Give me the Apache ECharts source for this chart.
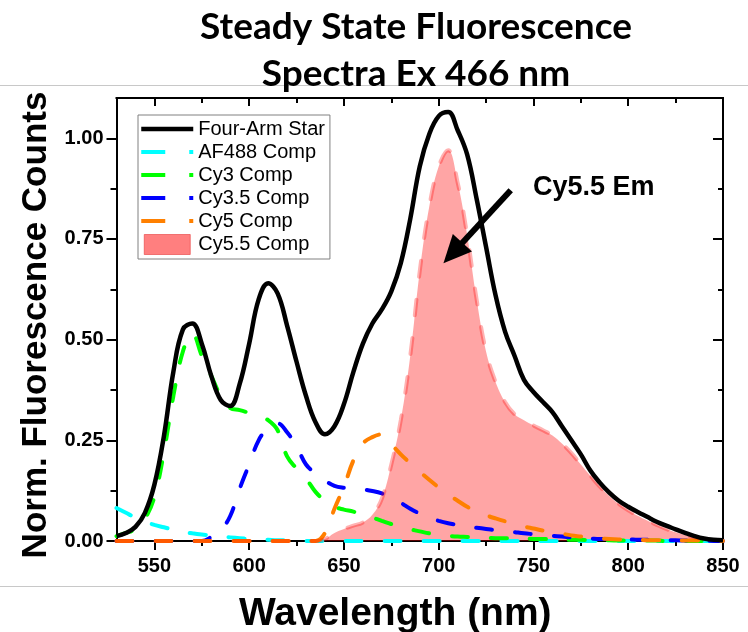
<!DOCTYPE html>
<html>
<head>
<meta charset="utf-8">
<script src="https://cdn.jsdelivr.net/npm/echarts@6/dist/echarts.min.js"></script>
<style>
  html, body { margin: 0; padding: 0; background: #fff; }
  #chart { width: 748px; height: 632px; }
</style>
</head>
<body>
<div id="chart"></div>
<script>
// Emission wavelengths (nm), 5 nm steps
const wavelengths = [
  530, 535, 540, 545, 550, 555, 560, 565, 570, 575,
  580, 585, 590, 595, 600, 605, 610, 615, 620, 625,
  630, 635, 640, 645, 650, 655, 660, 665, 670, 675,
  680, 685, 690, 695, 700, 705, 710, 715, 720, 725,
  730, 735, 740, 745, 750, 755, 760, 765, 770, 775,
  780, 785, 790, 795, 800, 805, 810, 815, 820, 825,
  830, 835, 840, 845, 850
];

// Measured spectrum of the four-arm star construct
const starCounts = [
  0.012, 0.02, 0.035, 0.07, 0.14,
  0.26, 0.42, 0.525, 0.54, 0.49,
  0.41, 0.35, 0.335, 0.39, 0.49,
  0.60, 0.64, 0.615, 0.535, 0.445,
  0.36, 0.295, 0.265, 0.285, 0.34,
  0.42, 0.49, 0.54, 0.575, 0.62,
  0.69, 0.80, 0.93, 1.01, 1.055,
  1.065, 1.02, 0.96, 0.85, 0.73,
  0.61, 0.52, 0.46, 0.40, 0.37,
  0.345, 0.32, 0.285, 0.25, 0.215,
  0.175, 0.145, 0.12, 0.10, 0.085,
  0.072, 0.06, 0.048, 0.038, 0.029,
  0.02, 0.012, 0.006, 0.003, 0.002
];

// Fitted dye components
const af488Comp = [
  0.082, 0.07, 0.058, 0.048, 0.04,
  0.034, 0.028, 0.023, 0.019, 0.016,
  0.014, 0.011, 0.009, 0.007, 0.005,
  0.004, 0.003, 0.002, 0.002, 0.001,
  0, 0, 0, 0, 0,
  0, 0, 0, 0, 0,
  0, 0, 0, 0, 0,
  0, 0, 0, 0, 0,
  0, 0, 0, 0, 0,
  0, 0, 0, 0, 0,
  0, 0, 0, 0, 0,
  0, 0, 0, 0, 0,
  0, 0, 0, 0, 0
];

const cy3Comp = [
  0.012, 0.02, 0.03, 0.055, 0.11,
  0.22, 0.36, 0.47, 0.515, 0.46,
  0.41, 0.36, 0.33, 0.325, 0.318,
  0.31, 0.30, 0.275, 0.21, 0.18,
  0.155, 0.122, 0.10, 0.085, 0.078,
  0.073, 0.065, 0.058, 0.05, 0.042,
  0.035, 0.029, 0.024, 0.019, 0.016,
  0.013, 0.011, 0.01, 0.009, 0.008,
  0.007, 0.007, 0.006, 0.006, 0.005,
  0.005, 0.004, 0.004, 0.003, 0.003,
  0.002, 0.002, 0.002, 0.001, 0.001,
  0.001, 0.001, 0.001, 0, 0,
  0, 0, 0, 0, 0
];

const cy35Comp = [
  0, 0, 0, 0, 0,
  0, 0, 0, 0, 0,
  0.01, 0.027, 0.062, 0.13, 0.19,
  0.25, 0.28, 0.292, 0.27, 0.235,
  0.19, 0.168, 0.15, 0.137, 0.132,
  0.13, 0.128, 0.124, 0.118, 0.108,
  0.095, 0.08, 0.068, 0.058, 0.05,
  0.044, 0.04, 0.036, 0.033, 0.03,
  0.027, 0.025, 0.022, 0.019, 0.017,
  0.015, 0.013, 0.011, 0.009, 0.007,
  0.006, 0.005, 0.005, 0.004, 0.004,
  0.003, 0.003, 0.002, 0.002, 0.002,
  0.001, 0.001, 0.001, 0, 0
];

const cy5Comp = [
  0, 0, 0, 0, 0,
  0, 0, 0, 0, 0,
  0, 0, 0, 0, 0,
  0, 0, 0, 0, 0,
  0, 0, 0.02, 0.08, 0.135,
  0.2, 0.242, 0.258, 0.265, 0.24,
  0.215, 0.193, 0.172, 0.152, 0.133,
  0.115, 0.1, 0.085, 0.074, 0.064,
  0.056, 0.049, 0.043, 0.036, 0.031,
  0.026, 0.022, 0.018, 0.014, 0.011,
  0.008, 0.006, 0.005, 0.004, 0.003,
  0.003, 0.002, 0.002, 0.002, 0.001,
  0.001, 0.001, 0.001, 0, 0
];

const cy55Comp = [
  0, 0, 0, 0, 0,
  0, 0, 0, 0, 0,
  0, 0, 0, 0, 0,
  0, 0, 0, 0, 0,
  0, 0, 0.005, 0.02, 0.03,
  0.038, 0.046, 0.065, 0.105, 0.19,
  0.30, 0.46, 0.67, 0.83, 0.93,
  0.97, 0.89, 0.76, 0.60, 0.47,
  0.395, 0.345, 0.315, 0.30, 0.287,
  0.275, 0.262, 0.242, 0.218, 0.19,
  0.162, 0.135, 0.112, 0.092, 0.076,
  0.063, 0.051, 0.04, 0.03, 0.022,
  0.015, 0.009, 0.005, 0.002, 0.001
];

// Axis ticks
const xMajorTicks = [550, 600, 650, 700, 750, 800, 850];
const xMinorTicks = [575, 625, 675, 725, 775, 825];
const yMajorTicks = [0, 0.25, 0.5, 0.75, 1.0];
const yMinorTicks = [0.125, 0.375, 0.625, 0.875];

// Arrow pointing at the Cy5.5 emission peak (data space)
const arrowFrom = [738, 0.871];
const arrowTo = [707.5, 0.715];

const X_MIN = 530, X_MAX = 850, Y_MIN = 0, Y_MAX = 1.1;
const INK = '#000';
const RULE = '#c8c8c8';
const FONT = 'Liberation Sans, Arial, sans-serif';
const DASH = [16, 23];
const LEGEND_DASH = [24, 24];

const pairs = vals => wavelengths.map((w, i) => [w, vals[i]]);

function xAxis(position, ticks, len, inside, labels) {
  return {
    type: 'value', position, min: X_MIN, max: X_MAX,
    axisLine: { show: true, onZero: false, lineStyle: { color: INK, width: 2 } },
    axisTick: { show: true, inside, length: len, customValues: ticks, lineStyle: { color: INK, width: 2 } },
    axisLabel: labels ? {
      show: true, customValues: ticks, margin: 15,
      fontFamily: FONT, fontWeight: 'bold', fontSize: 20, color: INK
    } : { show: false },
    splitLine: { show: false }
  };
}

function yAxis(position, ticks, len, inside, labels) {
  return {
    type: 'value', position, min: Y_MIN, max: Y_MAX,
    axisLine: { show: true, onZero: false, lineStyle: { color: INK, width: 2 } },
    axisTick: { show: true, inside, length: len, customValues: ticks, lineStyle: { color: INK, width: 2 } },
    axisLabel: labels ? {
      show: true, customValues: ticks, margin: 13,
      formatter: v => v.toFixed(2),
      fontFamily: FONT, fontWeight: 'bold', fontSize: 20, color: INK
    } : { show: false },
    splitLine: { show: false }
  };
}

function component(name, color, vals) {
  return {
    name, type: 'line', data: pairs(vals), symbol: 'none', smooth: 0.4, clip: false,
    lineStyle: { color, width: 4, type: DASH, cap: 'round' },
    itemStyle: { color }
  };
}

const xBottom = xAxis('bottom', xMajorTicks, 9, false, true);
xBottom.name = 'Wavelength (nm)';
xBottom.nameLocation = 'middle';
xBottom.nameGap = 54;
xBottom.nameTextStyle = { fontFamily: FONT, fontWeight: 'bold', fontSize: 39, color: INK, padding: [0, 49, 0, 0] };

const yLeft = yAxis('left', yMajorTicks, 10, false, true);
yLeft.name = 'Norm. Fluorescence Counts';
yLeft.nameLocation = 'middle';
yLeft.nameGap = 52;
yLeft.nameRotate = 90;
yLeft.nameTextStyle = { fontFamily: FONT, fontWeight: 'bold', fontSize: 35, color: INK, padding: [0, 11, 0, 0] };

const option = {
  animation: false,
  backgroundColor: '#fff',
  grid: { left: 116.5, right: 25, top: 98, bottom: 91, containLabel: false, outerBoundsMode: 'none' },
  xAxis: [
    xBottom,
    xAxis('bottom', xMinorTicks, 5, false, false),
    xAxis('top', xMajorTicks, 8, true, false),
    xAxis('top', xMinorTicks, 5, true, false)
  ],
  yAxis: [
    yLeft,
    yAxis('left', yMinorTicks, 6, false, false),
    yAxis('right', yMajorTicks, 10, true, false),
    yAxis('right', yMinorTicks, 5, true, false)
  ],
  legend: {
    orient: 'vertical', left: 138, top: 115,
    padding: [4, 5, 4, 1],
    itemWidth: 52, itemHeight: 20, itemGap: 3,
    borderColor: '#808080', borderWidth: 1,
    selectedMode: false,
    textStyle: { fontFamily: FONT, fontSize: 20, color: INK },
    itemStyle: { opacity: 0 },
    data: [
      { name: 'Four-Arm Star', lineStyle: { width: 4.5, type: 'solid' } },
      { name: 'AF488 Comp', lineStyle: { width: 4, type: LEGEND_DASH, cap: 'butt' } },
      { name: 'Cy3 Comp', lineStyle: { width: 4, type: LEGEND_DASH, cap: 'butt' } },
      { name: 'Cy3.5 Comp', lineStyle: { width: 4, type: LEGEND_DASH, cap: 'butt' } },
      { name: 'Cy5 Comp', lineStyle: { width: 4, type: LEGEND_DASH, cap: 'butt' } },
      {
        name: 'Cy5.5 Comp', icon: 'path://M0,0h46v20h-46z',
        itemStyle: { opacity: 1, color: 'rgba(255,0,0,0.5)', borderColor: 'rgba(230,60,60,0.6)', borderWidth: 1 }
      }
    ]
  },
  series: [
    component('AF488 Comp', '#00ffff', af488Comp),
    component('Cy3 Comp', '#00ff00', cy3Comp),
    component('Cy3.5 Comp', '#0000ff', cy35Comp),
    component('Cy5 Comp', '#ff8000', cy5Comp),
    {
      name: 'Cy5.5 Comp', type: 'line', data: pairs(cy55Comp), symbol: 'none', smooth: 0.4, clip: false,
      lineStyle: { color: 'rgba(255,0,0,0.3)', width: 4, type: DASH, cap: 'round' },
      areaStyle: { color: 'rgba(255,0,0,0.5)' },
      itemStyle: { color: 'rgba(255,0,0,0.5)' },
      markLine: {
        silent: true, animation: false,
        symbol: ['none', 'triangle'], symbolSize: [26, 28],
        label: { show: false },
        lineStyle: { color: INK, width: 6, type: 'solid', opacity: 1 },
        data: [[{ coord: arrowFrom }, { coord: arrowTo }]]
      }
    },
    {
      name: 'Four-Arm Star', type: 'line', data: pairs(starCounts), symbol: 'none', smooth: 0.4, clip: false,
      lineStyle: { color: INK, width: 4.5 },
      itemStyle: { color: INK }
    }
  ],
  graphic: [
    // faint page rules around the figure
    { type: 'line', z: -10, shape: { x1: 0, y1: 85.5, x2: 748, y2: 85.5 }, style: { stroke: RULE, lineWidth: 1 } },
    { type: 'line', z: -10, shape: { x1: 0, y1: 586.5, x2: 748, y2: 586.5 }, style: { stroke: RULE, lineWidth: 1 } },
    {
      type: 'text', x: 416, y: 27,
      style: { text: 'Steady State Fluorescence', font: 'bold 37px Lato, sans-serif', fill: INK,
               textAlign: 'center', textVerticalAlign: 'middle', align: 'center', verticalAlign: 'middle' }
    },
    {
      type: 'text', x: 416, y: 74,
      style: { text: 'Spectra Ex 466 nm', font: 'bold 37px Lato, sans-serif', fill: INK,
               textAlign: 'center', textVerticalAlign: 'middle', align: 'center', verticalAlign: 'middle' }
    },
    {
      type: 'text', x: 533, y: 188,
      style: { text: 'Cy5.5 Em', font: 'bold 27px "Liberation Sans", Arial, sans-serif', fill: INK,
               textAlign: 'left', textVerticalAlign: 'middle', align: 'left', verticalAlign: 'middle' }
    }
  ]
};

const chart = echarts.init(document.getElementById('chart'), null, { renderer: 'canvas' });
chart.setOption(option);
</script>
</body>
</html>
